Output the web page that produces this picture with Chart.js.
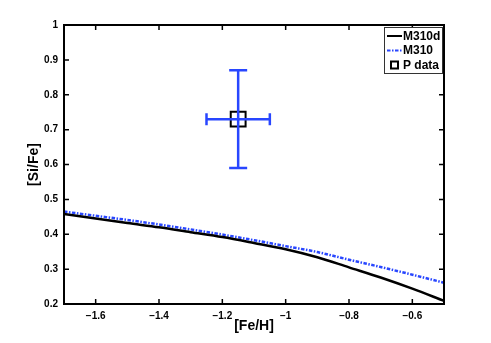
<!DOCTYPE html>
<html>
<head>
<meta charset="utf-8">
<script src="https://cdn.jsdelivr.net/npm/chart.js@4/dist/chart.umd.min.js"></script>
<style>
  html, body { margin: 0; padding: 0; background: #fff; }
  #wrap { width: 491px; height: 343px; }
</style>
</head>
<body>
<div id="wrap"><canvas id="siFeChart" width="491" height="343"></canvas></div>
<script>
// [Fe/H] sample points along the model curves
const feH = [-1.7, -1.6, -1.5, -1.4, -1.3, -1.2, -1.1, -1.0, -0.9, -0.8, -0.7, -0.6, -0.5]
const m310d = [0.458, 0.445, 0.432, 0.420, 0.406, 0.392, 0.375, 0.357, 0.334, 0.305, 0.276, 0.244, 0.209]
const m310 = [0.465, 0.453, 0.441, 0.428, 0.414, 0.399, 0.383, 0.366, 0.349, 0.327, 0.306, 0.284, 0.261]

// observed point with error bars
const pFeH = [-1.15]
const pSiFe = [0.73]
const pFeHErr = [0.1]
const pSiFeErr = [0.14]

const xTicks = [-1.6, -1.4, -1.2, -1.0, -0.8, -0.6]
const yTicks = [0.2, 0.3, 0.4, 0.5, 0.6, 0.7, 0.8, 0.9, 1]

const BLUE = '#2846ff'
const DASHDOT = [3.5, 1.5, 1.5, 1.5]
const FONT = "'Liberation Sans', Arial, sans-serif"

const toPoints = (xs, ys) => xs.map((x, i) => ({x: x, y: ys[i]}))
const fmt = v => String(Math.round(v * 10) / 10).replace('-', '\u2212')

const frameAndTicks = {
    id: 'frameAndTicks',
    afterDatasetsDraw(chart) {
        const ctx = chart.ctx
        const xs = chart.scales.x, ys = chart.scales.y

        // error bars on top of the square
        ctx.save()
        ctx.strokeStyle = BLUE
        ctx.lineWidth = 2.5
        pFeH.forEach((x, i) => {
            const cx = xs.getPixelForValue(x)
            const cy = ys.getPixelForValue(pSiFe[i])
            const x0 = xs.getPixelForValue(x - pFeHErr[i])
            const x1 = xs.getPixelForValue(x + pFeHErr[i])
            const y0 = ys.getPixelForValue(pSiFe[i] + pSiFeErr[i])
            const y1 = ys.getPixelForValue(pSiFe[i] - pSiFeErr[i])
            ctx.beginPath()
            ctx.moveTo(cx, y0); ctx.lineTo(cx, y1)
            ctx.moveTo(cx - 9, y0); ctx.lineTo(cx + 9, y0)
            ctx.moveTo(cx - 9, y1); ctx.lineTo(cx + 9, y1)
            ctx.moveTo(x0, cy); ctx.lineTo(x1, cy)
            ctx.moveTo(x0, cy - 6); ctx.lineTo(x0, cy + 6)
            ctx.moveTo(x1, cy - 6); ctx.lineTo(x1, cy + 6)
            ctx.stroke()
        })
        ctx.restore()
    },
    afterDraw(chart) {
        const ctx = chart.ctx
        const xs = chart.scales.x, ys = chart.scales.y
        const a = chart.chartArea
        ctx.save()
        ctx.strokeStyle = '#000'
        ctx.lineWidth = 1.5
        ctx.beginPath()
        xTicks.forEach(v => {
            const px = xs.getPixelForValue(v)
            ctx.moveTo(px, a.bottom); ctx.lineTo(px, a.bottom - 5)
            ctx.moveTo(px, a.top); ctx.lineTo(px, a.top + 5)
        })
        yTicks.forEach(v => {
            const py = ys.getPixelForValue(v)
            ctx.moveTo(a.left, py); ctx.lineTo(a.left + 5, py)
            ctx.moveTo(a.right, py); ctx.lineTo(a.right - 5, py)
        })
        ctx.stroke()
        ctx.lineWidth = 2
        ctx.strokeRect(a.left, a.top, a.right - a.left, a.bottom - a.top)

        // legend box in the upper right corner
        const lx = 384, ly = 27, lw = 58, lh = 46
        ctx.fillStyle = '#fff'
        ctx.fillRect(lx, ly, lw, lh)
        ctx.lineWidth = 1
        ctx.strokeStyle = '#333'
        ctx.strokeRect(lx + 0.5, ly + 0.5, lw, lh)
        const rows = [ly + 9, ly + 23.5, ly + 38]
        ctx.lineWidth = 2
        ctx.strokeStyle = '#000'
        ctx.beginPath(); ctx.moveTo(387, rows[0]); ctx.lineTo(402, rows[0]); ctx.stroke()
        ctx.strokeStyle = BLUE
        ctx.setLineDash(DASHDOT)
        ctx.beginPath(); ctx.moveTo(387, rows[1]); ctx.lineTo(402, rows[1]); ctx.stroke()
        ctx.setLineDash([])
        ctx.strokeStyle = '#000'
        ctx.strokeRect(391, rows[2] - 3.5, 7, 7)
        ctx.fillStyle = '#000'
        ctx.font = 'bold 12px ' + FONT
        ctx.textBaseline = 'middle'
        ctx.textAlign = 'left'
        chart.data.datasets.forEach((ds, i) => ctx.fillText(ds.label, 403, rows[i] + 0.5))
        ctx.restore()
    }
}

const chart = new Chart(document.getElementById('siFeChart'), {
    type: 'scatter',
    data: {
        datasets: [{
            label: 'M310d',
            data: toPoints(feH, m310d),
            showLine: true,
            borderColor: '#000',
            borderWidth: 2.5,
            pointRadius: 0,
            cubicInterpolationMode: 'monotone',
        }, {
            label: 'M310',
            data: toPoints(feH, m310),
            showLine: true,
            borderColor: BLUE,
            borderWidth: 2.5,
            borderDash: DASHDOT,
            pointRadius: 0,
            cubicInterpolationMode: 'monotone',
        }, {
            label: 'P data',
            data: toPoints(pFeH, pSiFe),
            pointStyle: 'rect',
            pointRadius: 10.5,
            pointBorderWidth: 2,
            borderColor: '#000',
            backgroundColor: 'rgba(0,0,0,0)',
        }]
    },
    plugins: [frameAndTicks],
    options: {
        responsive: false,
        animation: false,
        layout: {padding: {left: 0, right: 47, top: 25, bottom: 0}},
        plugins: {
            legend: {display: false},
            tooltip: {enabled: false},
        },
        scales: {
            x: {
                type: 'linear',
                min: -1.7,
                max: -0.5,
                afterFit: s => { s.height = 39 },
                afterBuildTicks: s => { s.ticks = xTicks.map(v => ({value: v})) },
                grid: {display: false, drawTicks: false},
                border: {display: false},
                ticks: {
                    padding: 6,
                    color: '#000',
                    font: {family: FONT, size: 10, weight: 'bold'},
                    callback: v => fmt(v),
                },
                title: {
                    display: true,
                    text: '[Fe/H]',
                    color: '#000',
                    font: {family: FONT, size: 14, weight: 'bold'},
                    padding: {top: 0, bottom: 8},
                },
            },
            y: {
                type: 'linear',
                min: 0.2,
                max: 1,
                afterFit: s => { s.width = 64 },
                afterBuildTicks: s => { s.ticks = yTicks.map(v => ({value: v})) },
                grid: {display: false, drawTicks: false},
                border: {display: false},
                ticks: {
                    padding: 6,
                    color: '#000',
                    font: {family: FONT, size: 10, weight: 'bold'},
                    callback: v => fmt(v),
                },
                title: {
                    display: true,
                    text: '[Si/Fe]',
                    color: '#000',
                    font: {family: FONT, size: 14, weight: 'bold'},
                    padding: {top: 26, bottom: 0},
                },
            }
        }
    }
})
</script>
</body>
</html>
